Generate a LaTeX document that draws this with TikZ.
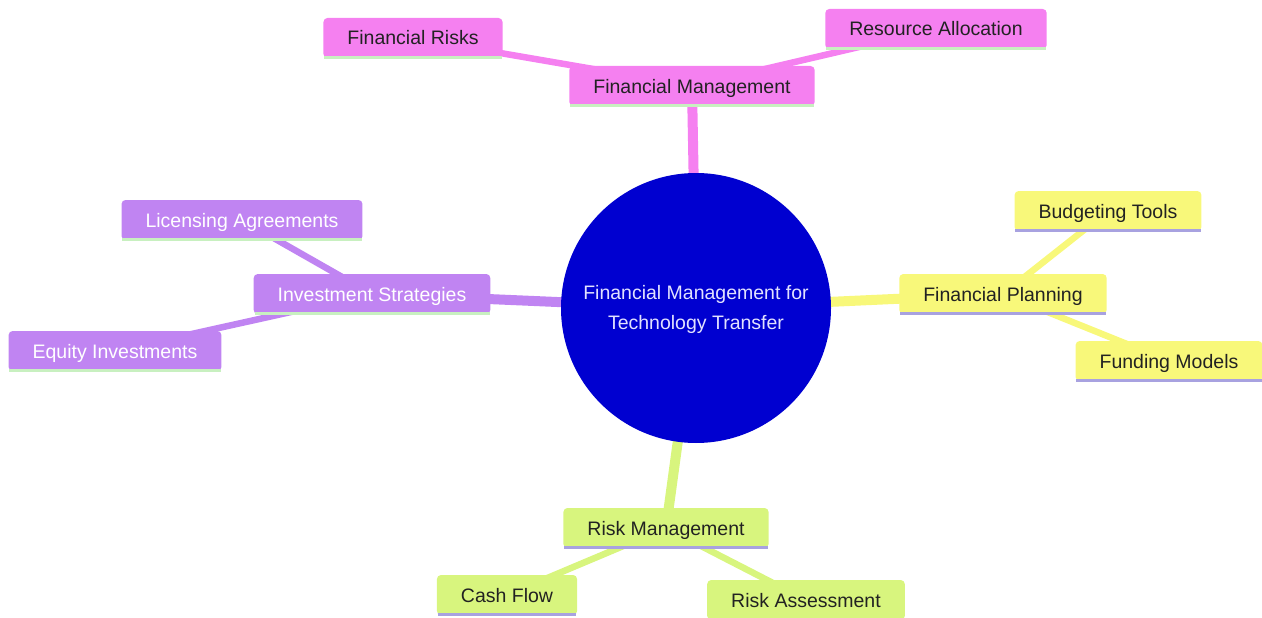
\documentclass[tikz,border=0pt]{standalone}
\usepackage{fontspec}
\setmainfont{Liberation Sans}
\usetikzlibrary{backgrounds}
\definecolor{pinkf}{HTML}{F580F0}
\definecolor{purpf}{HTML}{C084F2}
\definecolor{yelf}{HTML}{F8F87A}
\definecolor{grnf}{HTML}{D8F57E}
\definecolor{lgrn}{HTML}{C8F0C0}
\definecolor{lav}{HTML}{A8A2E0}
\definecolor{rootf}{HTML}{0000D0}
\definecolor{roott}{HTML}{E2E2FF}
\definecolor{dtext}{HTML}{222222}
\begin{document}
\begin{tikzpicture}[x=1pt,y=-1pt,
  box/.style={rectangle, rounded corners=4pt, inner xsep=24pt, inner ysep=0pt,
    text height=14pt, text depth=0pt,
    minimum height=40pt, font=\fontsize{19.5}{23}\selectfont, text=dtext},
  pinkbox/.style={box, fill=pinkf},
  purpbox/.style={box, fill=purpf, text=white},
  yelbox/.style={box, fill=yelf},
  grnbox/.style={box, fill=grnf},
  trunk/.style={line width=10pt},
  twig/.style={line width=6.5pt},
  uline/.style={line width=3pt}
]
\useasboundingbox (0,0) rectangle (1262,618);
% nodes
\node[circle, fill=rootf, minimum size=270pt, inner sep=0pt,
  text=roott, font=\fontsize{19.5}{30}\selectfont] (root) at (696,308)
  {\raisebox{-2.5pt}{\begin{tabular}{@{}c@{}}Financial Management for\\Technology Transfer\end{tabular}}};
\node[pinkbox] (fm) at (692,86) {Financial Management};
\node[pinkbox] (fr) at (413,38) {Financial Risks};
\node[pinkbox] (ra) at (936,29) {Resource Allocation};
\node[yelbox] (fp) at (1003,294) {Financial Planning};
\node[yelbox] (bt) at (1108,211) {Budgeting Tools};
\node[yelbox] (fmo) at (1169,361) {Funding Models};
\node[grnbox] (rm) at (666,528) {Risk Management};
\node[grnbox] (cf) at (507,595) {Cash Flow};
\node[grnbox] (rsa) at (806,600) {Risk Assessment};
\node[purpbox] (is) at (372,294) {Investment Strategies};
\node[purpbox] (la) at (242,220) {Licensing Agreements};
\node[purpbox] (ei) at (115,351) {Equity Investments};
% underlines
\foreach \n in {fm,fr,ra,is,la,ei}
  \draw[uline, lgrn] ([xshift=1pt,yshift=1pt]\n.south west) -- ([xshift=-1pt,yshift=1pt]\n.south east);
\foreach \n in {fp,bt,fmo,rm,cf,rsa}
  \draw[uline, lav] ([xshift=1pt,yshift=1pt]\n.south west) -- ([xshift=-1pt,yshift=1pt]\n.south east);
% edges behind nodes
\begin{pgfonlayer}{background}
  \draw[trunk, pinkf] (root.center) -- (fm.center);
  \draw[trunk, yelf] (root.center) -- (fp.center);
  \draw[trunk, grnf] (root.center) -- (rm.center);
  \draw[trunk, purpf] (root.center) -- (is.center);
  \draw[twig, pinkf] (fm.center) -- (fr.center);
  \draw[twig, pinkf] (fm.center) -- (ra.center);
  \draw[twig, yelf] (fp.center) -- (bt.center);
  \draw[twig, yelf] (fp.center) -- (fmo.center);
  \draw[twig, grnf] (rm.center) -- (cf.center);
  \draw[twig, grnf] (rm.center) -- (rsa.center);
  \draw[twig, purpf] (is.center) -- (la.center);
  \draw[twig, purpf] (is.center) -- (ei.center);
\end{pgfonlayer}
\end{tikzpicture}
\end{document}
